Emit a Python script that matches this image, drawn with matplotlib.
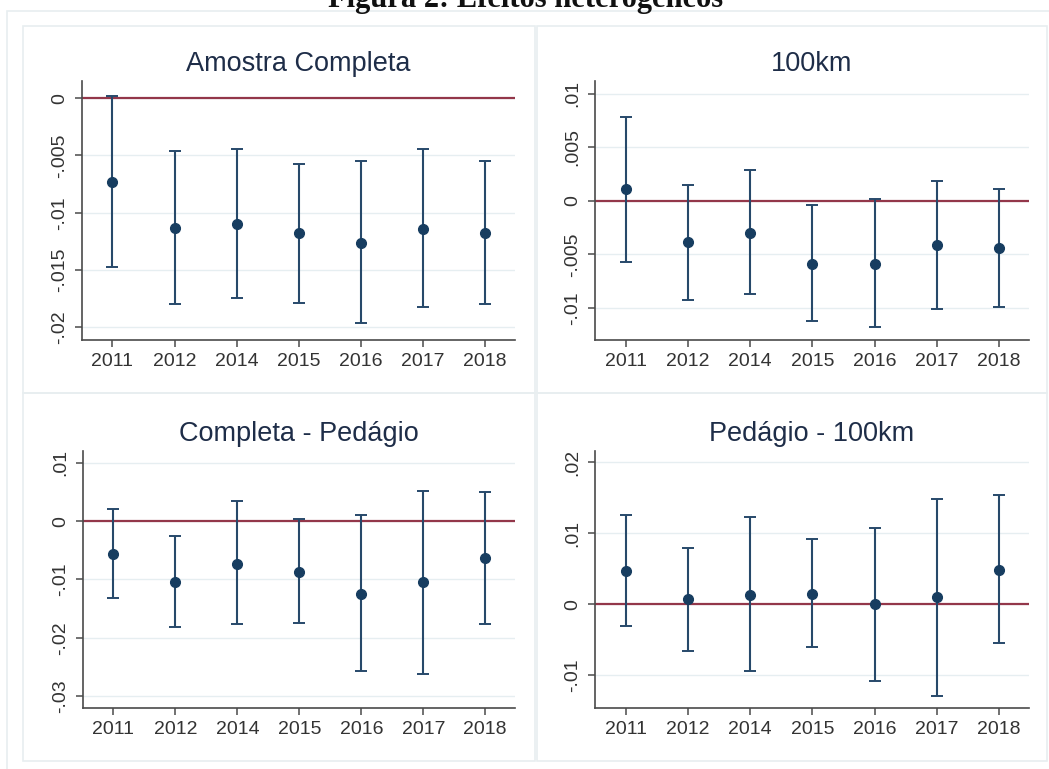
import matplotlib
matplotlib.use("Agg")
import matplotlib.pyplot as plt
from matplotlib.patches import Rectangle
from matplotlib.ticker import FuncFormatter

W, H = 1049, 769

years = ["2011", "2012", "2014", "2015", "2016", "2017", "2018"]

# Amostra Completa
completa_coef = [-0.0073, -0.0113, -0.0110, -0.0118, -0.0126, -0.0114, -0.0118]
completa_hi = [0.0002, -0.0046, -0.0044, -0.0057, -0.0055, -0.0044, -0.0055]
completa_lo = [-0.0147, -0.0180, -0.0174, -0.0179, -0.0196, -0.0182, -0.0180]

# 100km
km100_coef = [0.0011, -0.0038, -0.0030, -0.0059, -0.0059, -0.0041, -0.0044]
km100_hi = [0.0078, 0.0015, 0.0029, -0.0004, 0.0002, 0.0019, 0.0011]
km100_lo = [-0.0057, -0.0093, -0.0087, -0.0112, -0.0118, -0.0101, -0.0099]

# Completa - Pedágio
ped_coef = [-0.0057, -0.0105, -0.0073, -0.0087, -0.0125, -0.0105, -0.0064]
ped_hi = [0.0020, -0.0025, 0.0035, 0.0004, 0.0010, 0.0052, 0.0049]
ped_lo = [-0.0132, -0.0181, -0.0177, -0.0174, -0.0257, -0.0261, -0.0177]

# Pedágio - 100km
ped100_coef = [0.0047, 0.0007, 0.0013, 0.0015, 0.0000, 0.0011, 0.0048]
ped100_hi = [0.0126, 0.0080, 0.0123, 0.0092, 0.0108, 0.0148, 0.0154]
ped100_lo = [-0.0031, -0.0066, -0.0094, -0.0060, -0.0108, -0.0129, -0.0054]

panels = [
    ("Amostra Completa", completa_coef, completa_lo, completa_hi,
     [0, -0.005, -0.01, -0.015, -0.02], (-0.0211, 0.0015), (82, 81, 515, 340)),
    ("100km", km100_coef, km100_lo, km100_hi,
     [-0.01, -0.005, 0, 0.005, 0.01], (-0.0130, 0.0112), (595, 81, 1029, 340)),
    ("Completa - Pedágio", ped_coef, ped_lo, ped_hi,
     [-0.03, -0.02, -0.01, 0, 0.01], (-0.0320, 0.0120), (83, 451, 515, 708)),
    ("Pedágio - 100km", ped100_coef, ped100_lo, ped100_hi,
     [-0.01, 0, 0.01, 0.02], (-0.0146, 0.0216), (595, 451, 1029, 708)),
]

NAVY = "#173d60"
BAR = "#27496a"
RED = "#93374a"
GRID = "#e6eef1"
FRAME = "#e8eef0"
TXT = "#333333"


def px_box(l, t, r, b):
    return [l / W, 1 - b / H, (r - l) / W, (b - t) / H]


def stata_fmt(v, pos):
    if abs(v) < 1e-12:
        return "0"
    s = f"{v:g}"
    if s.startswith("-0."):
        s = "-" + s[2:]
    elif s.startswith("0."):
        s = s[1:]
    return s


plt.rcParams["font.family"] = ["Liberation Sans", "DejaVu Sans"]

fig = plt.figure(figsize=(W / 100, H / 100), dpi=100)
fig.patch.set_facecolor("white")

# light frames around the combined graph and each panel
frames = [(7, 11, 1060, 780), (23, 26, 535, 393), (537, 26, 1047, 393),
          (23, 393, 535, 761), (537, 393, 1047, 761)]
for l, t, r, b in frames:
    fig.add_artist(Rectangle((l / W, 1 - b / H), (r - l) / W, (b - t) / H,
                             transform=fig.transFigure, fill=False,
                             edgecolor=FRAME, linewidth=1.2))

fig.text(0.501, 1 - 7 / H, "Figura 2: Efeitos heterogêneos",
         ha="center", va="baseline", fontsize=22, fontweight="bold",
         family=["Liberation Serif", "DejaVu Serif"], color="#111111")

x = list(range(len(years)))
for title, coef, lo, hi, yticks, ylim, box in panels:
    ax = fig.add_axes(px_box(*box))
    err = [[c - l for c, l in zip(coef, lo)], [h - c for c, h in zip(coef, hi)]]
    ax.axhline(0, color=RED, linewidth=1.6, zorder=2)
    ax.errorbar(x, coef, yerr=err, fmt="o", color=NAVY, ecolor=BAR,
                elinewidth=1.5, capsize=4, capthick=1.4, markersize=7,
                zorder=3)
    ax.set_xlim(-0.49, 6.48)
    ax.set_ylim(*ylim)
    ax.set_xticks(x)
    ax.set_xticklabels(years)
    ax.set_yticks(yticks)
    ax.yaxis.set_major_formatter(FuncFormatter(stata_fmt))
    ax.grid(axis="y", color=GRID, linewidth=1.0, zorder=0)
    ax.set_axisbelow(True)
    for side in ("top", "right"):
        ax.spines[side].set_visible(False)
    for side in ("left", "bottom"):
        ax.spines[side].set_color("#4a4a4a")
        ax.spines[side].set_linewidth(1.2)
    ax.tick_params(axis="both", colors="#4a4a4a", length=5, width=1.1,
                   labelsize=14, labelcolor=TXT)
    ax.tick_params(axis="x", pad=4)
    ax.tick_params(axis="y", labelrotation=90, pad=5)
    for lab in ax.get_yticklabels():
        lab.set_va("center")
    ax.set_title(title, fontsize=19.5, color="#1e2d48", pad=7)

fig.savefig("out.png", dpi=100)
